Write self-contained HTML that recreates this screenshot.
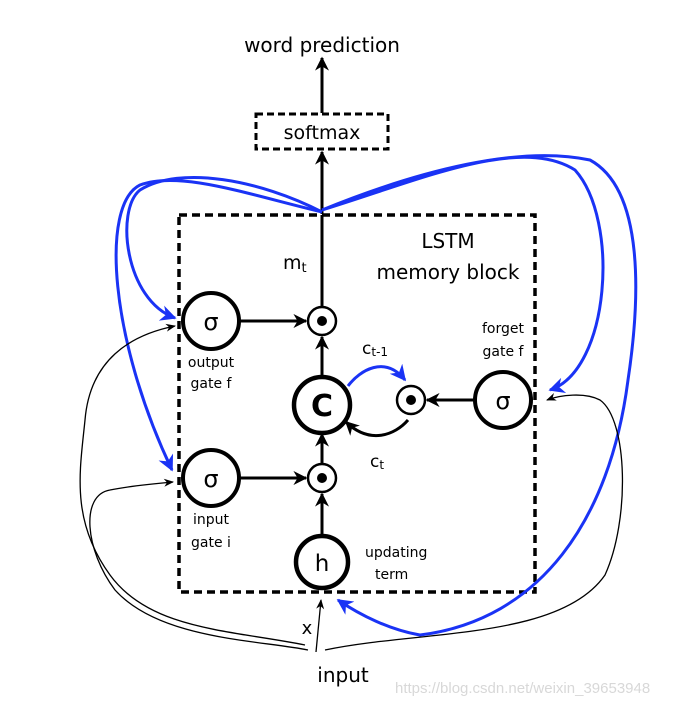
<!DOCTYPE html>
<html><head><meta charset="utf-8"><style>
body{margin:0;background:#fff;}
svg{display:block;font-family:"DejaVu Sans","Liberation Sans",sans-serif;}
</style></head><body>
<svg width="675" height="705" viewBox="0 0 675 705" xmlns="http://www.w3.org/2000/svg">
<defs>
<marker id="a" viewBox="0 0 10 10" refX="9" refY="5" markerWidth="14" markerHeight="14" orient="auto" markerUnits="userSpaceOnUse"><path d="M0,0 L10,5 L0,10 L3,5z" fill="#000"/></marker>
<marker id="at" viewBox="0 0 10 10" refX="9" refY="5" markerWidth="10" markerHeight="10" orient="auto" markerUnits="userSpaceOnUse"><path d="M0,1 L10,5 L0,9 L3,5z" fill="#000"/></marker>
<marker id="ab" viewBox="0 0 10 10" refX="9" refY="5" markerWidth="16" markerHeight="16" orient="auto" markerUnits="userSpaceOnUse"><path d="M0,0 L10,5 L0,10 L3,5z" fill="#1a33f5"/></marker>
</defs>
<text x="322" y="52" font-size="20" text-anchor="middle">word prediction</text>
<rect x="256" y="114" width="132" height="35" fill="none" stroke="#000" stroke-width="3" stroke-dasharray="7,4"/>
<text x="322" y="139" font-size="19" text-anchor="middle">softmax</text>
<line x1="322" y1="113" x2="322" y2="58" stroke="#000" stroke-width="3" marker-end="url(#a)"/>
<line x1="322" y1="214" x2="322" y2="152" stroke="#000" stroke-width="3" marker-end="url(#a)"/>
<rect x="179" y="215" width="356" height="377" fill="none" stroke="#000" stroke-width="3.5" stroke-dasharray="8,5"/>
<g fill="none" stroke="#1a33f5" stroke-width="3">
<path d="M322,212 C260,180 180,165 140,190 C115,210 125,300 175,318" marker-end="url(#ab)"/>
<path d="M322,212 C250,195 180,170 140,185 C100,205 110,340 172,470" marker-end="url(#ab)"/>
<path d="M322,210 C420,180 520,135 575,170 C620,220 610,370 550,390" marker-end="url(#ab)"/>
<path d="M322,210 C420,170 520,145 590,160 C645,190 640,300 628,380 C610,520 540,620 420,635 C390,630 360,615 338,600" marker-end="url(#ab)"/>
<path d="M348,386 C360,370 385,355 405,380" marker-end="url(#ab)"/>
</g>
<g fill="none" stroke="#000" stroke-width="1.3">
<path d="M308,650 C260,640 160,640 115,590 C85,550 80,495 110,490 C130,486 150,484 173,482" marker-end="url(#at)"/>
<path d="M305,645 C230,630 150,630 110,575 C70,520 80,470 85,420 C90,360 130,335 175,326" marker-end="url(#at)"/>
<path d="M316,652 L321,600" marker-end="url(#at)"/>
<path d="M325,650 C420,630 560,640 605,575 C630,520 628,420 600,400 C585,392 560,395 547,400" marker-end="url(#at)"/>
</g>
<g fill="#fff" stroke="#000">
<circle cx="211" cy="321" r="28" stroke-width="4"/>
<circle cx="211" cy="478" r="28" stroke-width="4"/>
<circle cx="503" cy="400" r="28" stroke-width="4"/>
<circle cx="322" cy="405" r="28" stroke-width="4.5"/>
<circle cx="322" cy="562" r="26" stroke-width="4.5"/>
<circle cx="322" cy="321" r="14" stroke-width="2.5"/>
<circle cx="322" cy="478" r="14" stroke-width="2.5"/>
<circle cx="411" cy="400" r="14" stroke-width="2.5"/>
</g>
<circle cx="322" cy="321" r="5" fill="#000"/>
<circle cx="322" cy="478" r="5" fill="#000"/>
<circle cx="411" cy="400" r="5" fill="#000"/>
<g stroke="#000" stroke-width="3" fill="none">
<line x1="240" y1="321" x2="306" y2="321" marker-end="url(#a)"/>
<line x1="240" y1="478" x2="306" y2="478" marker-end="url(#a)"/>
<line x1="322" y1="376" x2="322" y2="337" marker-end="url(#a)"/>
<line x1="322" y1="464" x2="322" y2="434" marker-end="url(#a)"/>
<line x1="322" y1="535" x2="322" y2="494" marker-end="url(#a)"/>
<line x1="322" y1="306" x2="322" y2="215"/>
<line x1="474" y1="400" x2="427" y2="400" marker-end="url(#a)"/>
<path d="M408,420 C395,435 370,445 346,422" marker-end="url(#a)"/>
</g>
<g text-anchor="middle">
<text x="211" y="330" font-size="24">σ</text>
<text x="211" y="487" font-size="24">σ</text>
<text x="503" y="409" font-size="24">σ</text>
<text x="322" y="416" font-size="30" font-weight="bold">C</text>
<text x="322" y="571" font-size="23">h</text>
<text x="448" y="248" font-size="20">LSTM</text>
<text x="448" y="279" font-size="20">memory block</text>
<text x="211" y="367" font-size="14">output</text>
<text x="211" y="388" font-size="14">gate f</text>
<text x="503" y="333" font-size="14">forget</text>
<text x="503" y="356" font-size="14">gate f</text>
<text x="211" y="524" font-size="14">input</text>
<text x="211" y="547" font-size="14">gate i</text>
<text x="365" y="557" font-size="14" text-anchor="start">updating</text>
<text x="375" y="579" font-size="14" text-anchor="start">term</text>
<text x="343" y="682" font-size="20">input</text>
<text x="307" y="634" font-size="18">x</text>
</g>
<text x="283" y="269" font-size="19">m<tspan font-size="13" dy="3">t</tspan></text>
<text x="362" y="354" font-size="17">c<tspan font-size="12" dy="2">t-1</tspan></text>
<text x="370" y="467" font-size="17">c<tspan font-size="12" dy="2">t</tspan></text>
<text x="395" y="693" font-size="15" fill="#d8d8d8" font-family="Liberation Sans, sans-serif">https://blog.csdn.net/weixin_39653948</text>
</svg>
</body></html>
